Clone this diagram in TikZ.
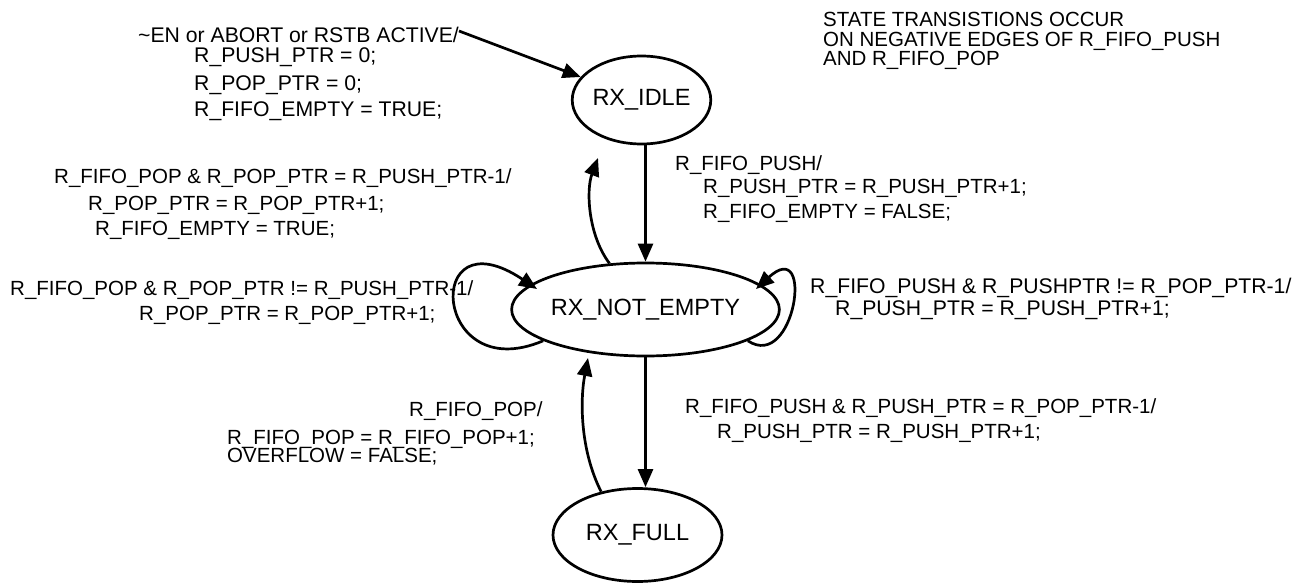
\documentclass[tikz,border=0pt]{standalone}
\usepackage{fontspec}
\setmainfont{Liberation Sans}
\usetikzlibrary{shapes.geometric,arrows.meta}
\begin{document}
\begin{tikzpicture}[x=1pt,y=-1pt,
  state/.style={draw, ellipse, line width=2.7pt, inner sep=0pt, font=\fontsize{23.5}{26}\selectfont},
  lbl/.style={anchor=base west, inner sep=0pt, font=\fontsize{20.5}{22}\selectfont},
  lblbig/.style={lbl, font=\fontsize{21.2}{23}\selectfont},
  arr/.style={draw, line width=2.7pt, -{Triangle[length=18pt,width=15pt]}}]
\useasboundingbox (0,0) rectangle (1304,586);

% states
\node[state, minimum width=131pt, minimum height=88pt] (idle) at (641.5,100) {RX\_IDLE};
\node[state, minimum width=225pt, minimum height=93pt] (ne) at (645.5,309.5) {RX\_NOT\_EMPTY};
\node[state, minimum width=169pt, minimum height=93pt] (full) at (637.5,535) {RX\_FULL};

% labels
\node[lblbig] (a1) at (138,43) {\textasciitilde EN or ABORT or RSTB ACTIVE/};
\node[lblbig] (a2) at (194,63) {R\_PUSH\_PTR = 0;};
\node[lblbig] (a3) at (194,90) {R\_POP\_PTR = 0;};
\node[lblbig] (a4) at (194,117) {R\_FIFO\_EMPTY = TRUE;};
\node[lbl] (n1) at (823,27) {STATE TRANSISTIONS OCCUR};
\node[lbl] (n2) at (823,47) {ON NEGATIVE EDGES OF R\_FIFO\_PUSH};
\node[lbl] (n3) at (823,66) {AND R\_FIFO\_POP};
\node[lbl] (b1) at (54,183) {R\_FIFO\_POP \& R\_POP\_PTR = R\_PUSH\_PTR-1/};
\node[lbl] (b2) at (88,210) {R\_POP\_PTR = R\_POP\_PTR+1;};
\node[lbl] (b3) at (95,235) {R\_FIFO\_EMPTY = TRUE;};
\node[lbl] (c1) at (10,295) {R\_FIFO\_POP \& R\_POP\_PTR != R\_PUSH\_PTR-1/};
\node[lbl] (c2) at (139,320) {R\_POP\_PTR = R\_POP\_PTR+1;};
\node[lbl] (d1) at (675,170) {R\_FIFO\_PUSH/};
\node[lbl] (d2) at (703,193) {R\_PUSH\_PTR = R\_PUSH\_PTR+1;};
\node[lbl] (d3) at (703,218) {R\_FIFO\_EMPTY = FALSE;};
\node[lblbig] (e1) at (810,293) {R\_FIFO\_PUSH \& R\_PUSHPTR != R\_POP\_PTR-1/};
\node[lblbig] (e2) at (835,315) {R\_PUSH\_PTR = R\_PUSH\_PTR+1;};
\node[lbl] (f1) at (409,416) {R\_FIFO\_POP/};
\node[lbl] (f2) at (227,444) {R\_FIFO\_POP = R\_FIFO\_POP+1;};
\node[lbl] (f3) at (227,462) {OVERFLOW = FALSE;};
\node[lbl] (g1) at (685,413) {R\_FIFO\_PUSH \& R\_PUSH\_PTR = R\_POP\_PTR-1/};
\node[lbl] (g2) at (717,438) {R\_PUSH\_PTR = R\_PUSH\_PTR+1;};

% connectors
\coordinate (s0) at (459,31);
\draw[arr] (s0) -- (idle);
\draw[arr] (ne.north |- idle.south) -- (ne.north);
\draw[arr] (ne.south) -- (ne.south |- full.north);
\coordinate (t1) at (598,158);
\draw[arr] (ne.128) .. controls (588,235) and (586,190) .. (t1);
\coordinate (t2) at (588,358);
\draw[arr] (full.130) .. controls (580,450) and (580,400) .. (t2);
\coordinate (t3) at (537,289);
\draw[arr] (ne.197) .. controls (432,388) and (422,212) .. (t3);
\coordinate (t4) at (756,289);
\draw[arr] (ne.343) .. controls (795,372) and (815,235) .. (t4);
\end{tikzpicture}
\end{document}
